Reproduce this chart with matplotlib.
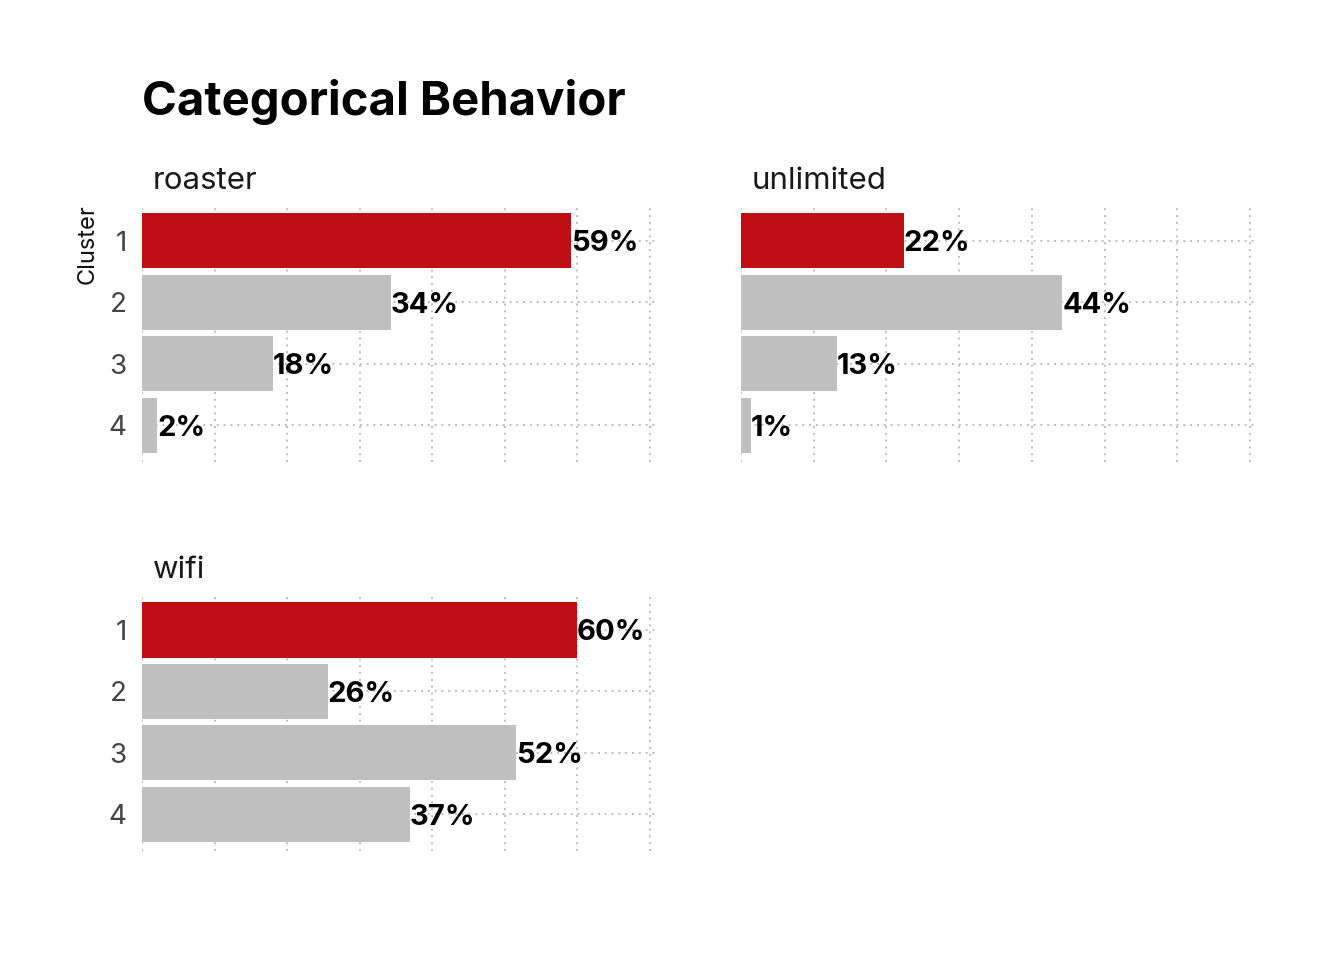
import matplotlib
matplotlib.use("Agg")
import matplotlib.pyplot as plt

plt.rcParams['font.family'] = ['Inter', 'DejaVu Sans']

clusters = ["1", "2", "3", "4"]
panels = ["roaster", "unlimited", "wifi"]
shares = {
    "roaster": [0.591, 0.343, 0.180, 0.021],
    "unlimited": [0.224, 0.442, 0.132, 0.014],
    "wifi": [0.599, 0.256, 0.516, 0.369],
}
highlight = "1"

RED = "#BE0F14"
GREY = "#C0C0C0"
GRID = "#BDBDBD"

W, H = 1344, 960
fig = plt.figure(figsize=(W / 100, H / 100), dpi=100)

# axes boxes in pixels: left, top, right, bottom
boxes = {
    "roaster": (142, 204, 655, 462),
    "unlimited": (741, 204, 1255, 462),
    "wifi": (142, 593, 655, 851),
}
show_yticks = {"roaster": True, "unlimited": False, "wifi": True}

for name in panels:
    l, t, r, b = boxes[name]
    ax = fig.add_axes([l / W, 1 - b / H, (r - l) / W, (b - t) / H])
    vals = shares[name]
    ypos = list(range(1, len(clusters) + 1))
    colors = [RED if c == highlight else GREY for c in clusters]
    ax.barh(ypos, vals, height=0.9, color=colors, zorder=2)
    for y, v in zip(ypos, vals):
        ax.text(v, y, f"{round(v * 100)}%", va="center_baseline", ha="left",
                fontsize=21, fontweight="bold", color="black", zorder=3)
    ax.set_xlim(0, 0.707)
    ax.set_ylim(4.6, 0.4)
    ax.set_yticks(ypos)
    ax.set_yticklabels(clusters if show_yticks[name] else [])
    ax.set_xticks([i / 10 for i in range(8)])
    ax.set_xticklabels([])
    ax.tick_params(axis="both", length=0, labelsize=20, labelcolor="#444444", pad=11)
    ax.grid(True, color=GRID, linestyle=(0, (1, 2.5)), linewidth=1.4, zorder=0)
    ax.set_axisbelow(True)
    for s in ax.spines.values():
        s.set_visible(False)
    ax.text(11 / (r - l), 1 + 15 / (b - t), name, transform=ax.transAxes,
            ha="left", va="baseline", fontsize=22.5, color="#1a1a1a")

fig.text(88 / W, 1 - 244 / H, "Cluster", rotation=90, ha="center", va="center",
         fontsize=17, color="#111111")
fig.text(142 / W, 1 - 115 / H, "Categorical Behavior", ha="left", va="baseline",
         fontsize=34, fontweight="bold", color="black")

fig.savefig("out.png", dpi=100, facecolor="white")
